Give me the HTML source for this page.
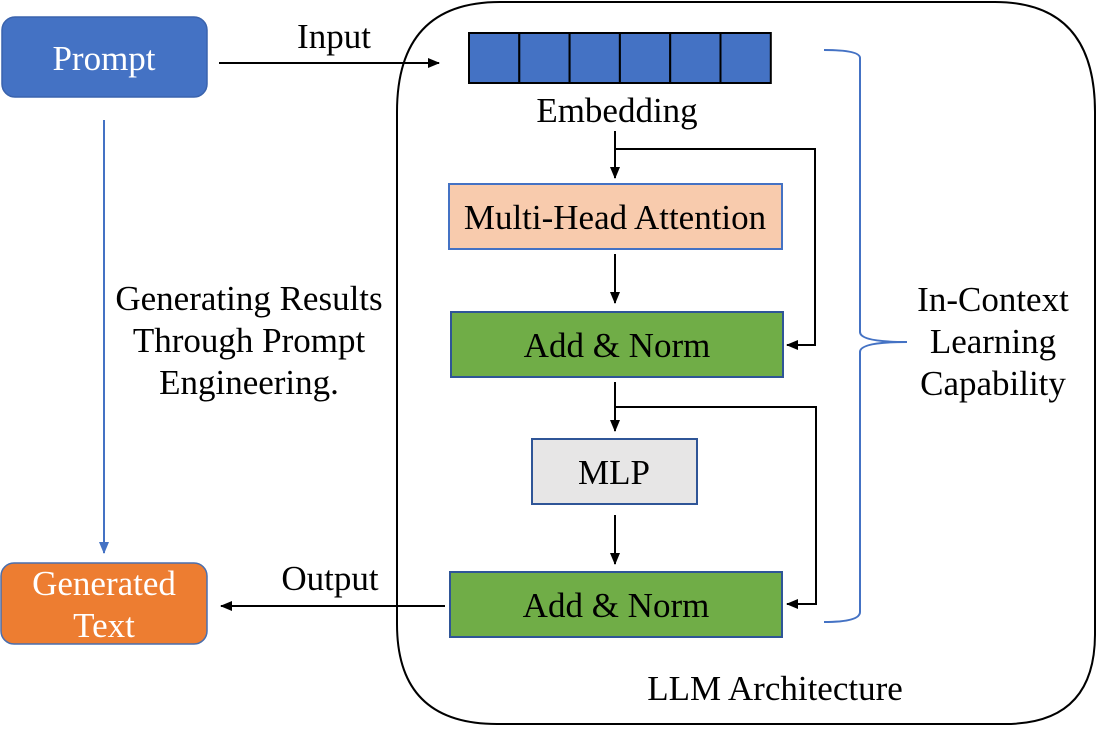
<!DOCTYPE html>
<html><head><meta charset="utf-8"><style>
html,body{margin:0;padding:0;background:#fff;}
svg{display:block;}
text{font-family:"Liberation Serif",serif;font-size:35px;}
</style></head><body>
<svg width="1100" height="731" viewBox="0 0 1100 731" xmlns="http://www.w3.org/2000/svg">
<defs>
<marker id="a" markerWidth="14" markerHeight="12" refX="11" refY="6" orient="auto" markerUnits="userSpaceOnUse"><path d="M0,1 L12,6 L0,11 z" fill="#000"/></marker>
<marker id="b" markerWidth="14" markerHeight="12" refX="11" refY="6" orient="auto" markerUnits="userSpaceOnUse"><path d="M0,1 L12,6 L0,11 z" fill="#4472C4"/></marker>
</defs>
<path d="M500,2 H995 Q1095,2 1095,112 V634 Q1095,724 1005,724 H497 Q397,724 397,624 V112 Q397,2 500,2 Z" fill="none" stroke="#000" stroke-width="2"/>
<rect x="2" y="17" width="205" height="80" rx="13" fill="#4472C4" stroke="#3a63ad" stroke-width="1.5"/>
<text x="104" y="70" text-anchor="middle" fill="#fff">Prompt</text>
<rect x="1" y="563" width="206" height="81" rx="13" fill="#ED7D31" stroke="#4a6fae" stroke-width="1.5"/>
<text x="104" y="595" text-anchor="middle" fill="#fff">Generated</text>
<text x="104" y="637" text-anchor="middle" fill="#fff">Text</text>
<line x1="219" y1="63" x2="439" y2="63" stroke="#000" stroke-width="2" marker-end="url(#a)"/>
<text x="334" y="48" text-anchor="middle">Input</text>
<line x1="445" y1="606" x2="221" y2="606" stroke="#000" stroke-width="2" marker-end="url(#a)"/>
<text x="330" y="590" text-anchor="middle">Output</text>
<line x1="104" y1="120" x2="104" y2="553" stroke="#4472C4" stroke-width="2" marker-end="url(#b)"/>
<text x="249" y="310" text-anchor="middle">Generating Results</text>
<text x="249" y="352" text-anchor="middle">Through Prompt</text>
<text x="249" y="394" text-anchor="middle">Engineering.</text>
<g fill="#4472C4" stroke="#000" stroke-width="2">
<rect x="469" y="33" width="50.3" height="50"/>
<rect x="519.3" y="33" width="50.3" height="50"/>
<rect x="569.6" y="33" width="50.3" height="50"/>
<rect x="619.9" y="33" width="50.3" height="50"/>
<rect x="670.2" y="33" width="50.3" height="50"/>
<rect x="720.5" y="33" width="50.3" height="50"/>
</g>
<text x="617" y="122" text-anchor="middle">Embedding</text>
<g stroke="#000" stroke-width="2" fill="none">
<line x1="615" y1="131" x2="615" y2="178" marker-end="url(#a)"/>
<polyline points="615,149 815,149 815,345 787,345" marker-end="url(#a)"/>
<line x1="615" y1="254" x2="615" y2="303" marker-end="url(#a)"/>
<line x1="615" y1="382" x2="615" y2="431" marker-end="url(#a)"/>
<polyline points="615,407 816,407 816,604 787,604" marker-end="url(#a)"/>
<line x1="615" y1="515" x2="615" y2="564" marker-end="url(#a)"/>
</g>
<rect x="449" y="184" width="333" height="65" fill="#F8CBAD" stroke="#4472C4" stroke-width="2"/>
<text x="615" y="229" text-anchor="middle">Multi-Head Attention</text>
<rect x="451" y="312" width="332" height="65" fill="#70AD47" stroke="#2F5597" stroke-width="2"/>
<text x="617" y="357" text-anchor="middle">Add &amp; Norm</text>
<rect x="532" y="439" width="165" height="65" fill="#E7E6E6" stroke="#2F5597" stroke-width="2"/>
<text x="614" y="484" text-anchor="middle">MLP</text>
<rect x="450" y="572" width="332" height="65" fill="#70AD47" stroke="#2F5597" stroke-width="2"/>
<text x="616" y="617" text-anchor="middle">Add &amp; Norm</text>
<path d="M824,50 Q860,50 860,58 V332 Q860,342 907,342 Q860,342 860,352 V612 Q860,622 824,622" fill="none" stroke="#4472C4" stroke-width="2"/>
<text x="993" y="311" text-anchor="middle">In-Context</text>
<text x="993" y="353" text-anchor="middle">Learning</text>
<text x="993" y="395" text-anchor="middle">Capability</text>
<text x="775" y="700" text-anchor="middle">LLM Architecture</text>
</svg>
</body></html>
